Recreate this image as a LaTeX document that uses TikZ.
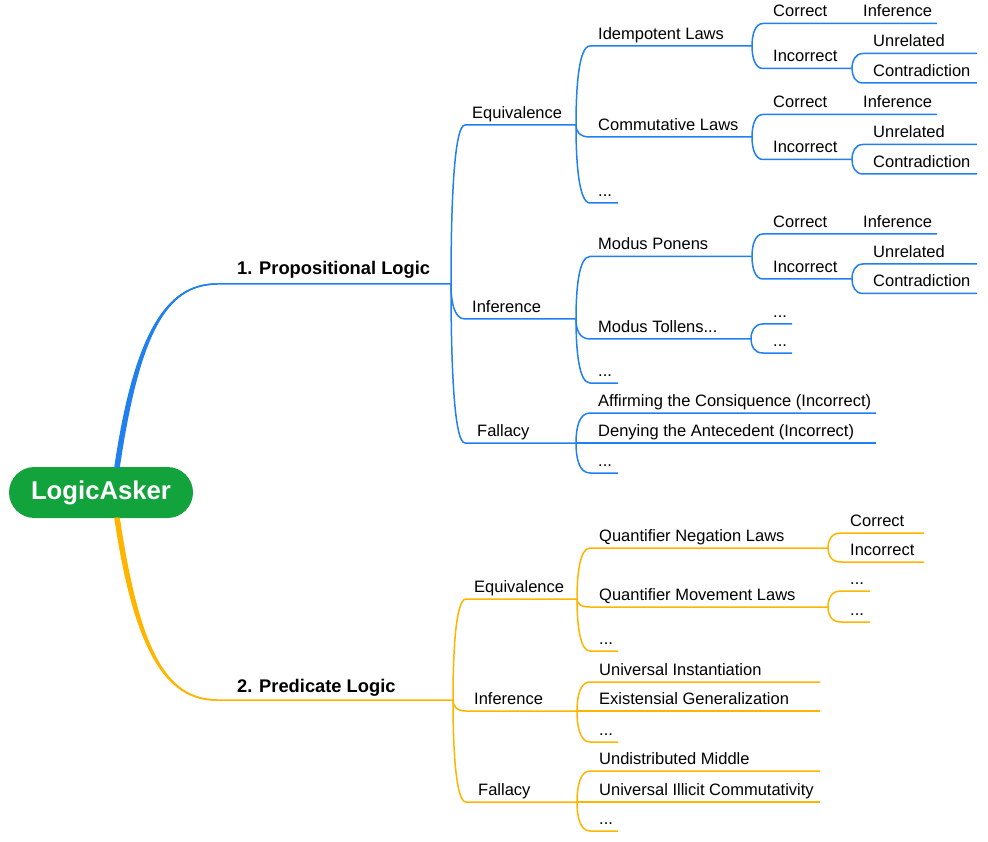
\documentclass[tikz,border=0pt]{standalone}
\usepackage{fontspec}
\setmainfont{Liberation Sans}
\usetikzlibrary{calc}
\definecolor{mblue}{RGB}{33,128,240}
\definecolor{morange}{RGB}{255,181,0}
\definecolor{mgreen}{RGB}{18,163,60}
\newcommand\labfont{\fontsize{16.5}{19}\selectfont}
\newcommand\topfont{\fontsize{18.3}{21}\selectfont\bfseries}
\newcommand\rootfont{\fontsize{25.7}{30}\selectfont\bfseries}
\newcommand\tdots{...}
\begin{document}
\begin{tikzpicture}[x=1pt,y=-1pt,
  br/.style={line width=1.5pt},
  fan/.style={to path={.. controls ($(\tikztostart)!0.5!(\tikztostart|-\tikztotarget)$) and ($(\tikztostart|-\tikztotarget)+(3,0)$) .. (\tikztotarget)}},
  lab/.style={anchor=base west, inner sep=0pt, font=\labfont},
  toplab/.style={anchor=base west, inner sep=0pt, font=\topfont},
  rootbox/.style={fill=mgreen, text=white, rounded corners=25.5pt, minimum width=184pt, minimum height=51pt, inner sep=0pt, font=\rootfont}]
\useasboundingbox (0,0) rectangle (988,842);

% root
\node[rootbox] (root) at (101,492.5) {LogicAsker};
\coordinate (rt) at (117,467.5);
\coordinate (rb) at (117,517.5);

% ---------- 1. Propositional Logic ----------
\coordinate (PL-s) at (217,284);
\coordinate (PL-e) at (451,284);
\fill[mblue] (114.2,467.5) .. controls (133.5,336) and (165,283.25) .. (217,283.25) -- (217,284.75) .. controls (165,284.75) and (139,338) .. (119.8,467.5) -- cycle;
\draw[br,mblue] (rt) .. controls (135,336) and (165,284) .. (PL-s) -- (PL-e);
\node[toplab] (PL-t) at (237,275) {1. Propositional Logic};

\foreach \n/\y/\x/\txt in {PE/125/472/Equivalence, PI/319/472/Inference, PF/443/477/Fallacy}{
  \coordinate (\n-s) at (465,\y);
  \coordinate (\n-e) at (576,\y);
  \node[lab] (\n-t) at (\x,\y-6.5) {\txt};
  \draw[br,mblue] (PL-e) to[fan] (\n-s) -- (\n-e);
}

\foreach \p/\n/\y/\xe/\txt in {PE/ID/46/752/Idempotent Laws, PE/CM/137/752/Commutative Laws, PE/ED/203/618/\tdots,
  PI/MP/256.5/752/Modus Ponens, PI/MT/339/751/Modus Tollens\tdots, PI/IDD/383/618/\tdots,
  PF/AF/413/876/Affirming the Consiquence (Incorrect), PF/DN/443/876/Denying the Antecedent (Incorrect), PF/FD/473/618/\tdots}{
  \coordinate (\n-s) at (590,\y);
  \coordinate (\n-e) at (\xe,\y);
  \node[lab] (\n-t) at (598,\y-6.5) {\txt};
  \draw[br,mblue] (\p-e) to[fan] (\n-s) -- (\n-e);
}

\foreach \g/\y in {ID/46, CM/137, MP/256.5}{
  \coordinate (\g-cs) at (763,\y-22.5);
  \coordinate (\g-ce) at (852,\y-22.5);
  \coordinate (\g-ie) at (937,\y-22.5);
  \coordinate (\g-xs) at (763,\y+22.5);
  \coordinate (\g-xe) at (852,\y+22.5);
  \coordinate (\g-us) at (863,\y+7.5);
  \coordinate (\g-ue) at (977,\y+7.5);
  \coordinate (\g-ds) at (863,\y+37);
  \coordinate (\g-de) at (977,\y+37);
  \node[lab] (\g-ct) at (773,\y-29) {Correct};
  \node[lab] (\g-it) at (863,\y-29) {Inference};
  \node[lab] (\g-xt) at (773,\y+16) {Incorrect};
  \node[lab] (\g-ut) at (873,\y+1) {Unrelated};
  \node[lab] (\g-dt) at (873,\y+30.5) {Contradiction};
  \draw[br,mblue] (\g-e) to[fan] (\g-cs) -- (\g-ce) -- (\g-ie);
  \draw[br,mblue] (\g-e) to[fan] (\g-xs) -- (\g-xe);
  \draw[br,mblue] (\g-xe) to[fan] (\g-us) -- (\g-ue);
  \draw[br,mblue] (\g-xe) to[fan] (\g-ds) -- (\g-de);
}

\foreach \n/\y in {MTa/324, MTb/353}{
  \coordinate (\n-s) at (763,\y);
  \coordinate (\n-e) at (792,\y);
  \node[lab] (\n-t) at (773,\y-6.5) {\tdots};
  \draw[br,mblue] (MT-e) to[fan] (\n-s) -- (\n-e);
}

% ---------- 2. Predicate Logic ----------
\coordinate (QL-s) at (217,700);
\coordinate (QL-e) at (453,700);
\fill[morange] (114.2,517.5) .. controls (133.5,649) and (165,700.75) .. (217,700.75) -- (217,699.25) .. controls (165,699.25) and (139,646) .. (119.8,517.5) -- cycle;
\draw[br,morange] (rb) .. controls (135,649) and (165,700) .. (QL-s) -- (QL-e);
\node[toplab] (QL-t) at (237,692) {2. Predicate Logic};

\foreach \n/\y/\x/\txt in {QE/599/474/Equivalence, QI/711/474/Inference, QF/802/478/Fallacy}{
  \coordinate (\n-s) at (466,\y);
  \coordinate (\n-e) at (577,\y);
  \node[lab] (\n-t) at (\x,\y-6.5) {\txt};
  \draw[br,morange] (QL-e) to[fan] (\n-s) -- (\n-e);
}

\foreach \p/\n/\y/\xe/\txt in {QE/QN/548/828/Quantifier Negation Laws, QE/QM/607/828/Quantifier Movement Laws, QE/QD/651/618/\tdots,
  QI/UI/682/820/Universal Instantiation, QI/EG/711/820/Existensial Generalization, QI/QID/742/618/\tdots,
  QF/UM/771/820/Undistributed Middle, QF/UC/802/820/Universal Illicit Commutativity, QF/QFD/831/618/\tdots}{
  \coordinate (\n-s) at (590,\y);
  \coordinate (\n-e) at (\xe,\y);
  \node[lab] (\n-t) at (599,\y-6.5) {\txt};
  \draw[br,morange] (\p-e) to[fan] (\n-s) -- (\n-e);
}

\foreach \p/\n/\y/\xe/\txt in {QN/QNa/533/924/Correct, QN/QNb/562/924/Incorrect, QM/QMa/591/870/\tdots, QM/QMb/622/870/\tdots}{
  \coordinate (\n-s) at (841,\y);
  \coordinate (\n-e) at (\xe,\y);
  \node[lab] (\n-t) at (850,\y-6.5) {\txt};
  \draw[br,morange] (\p-e) to[fan] (\n-s) -- (\n-e);
}
\end{tikzpicture}
\end{document}
